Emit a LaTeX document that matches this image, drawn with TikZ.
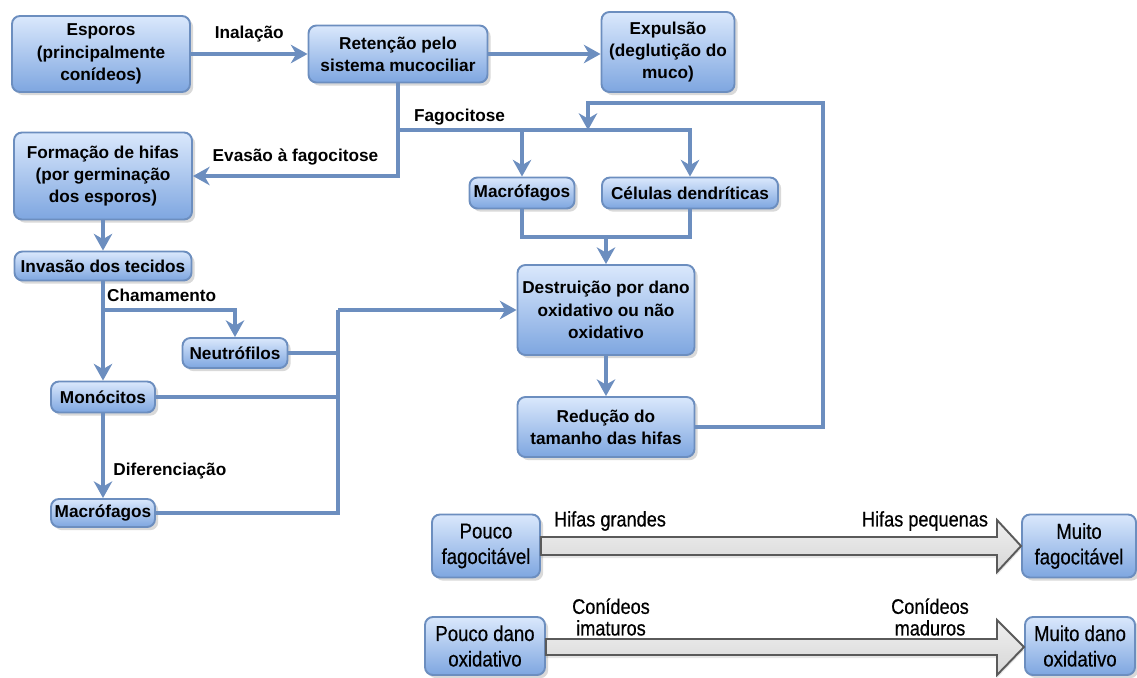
\documentclass[tikz,border=0pt]{standalone}
\usepackage{fontspec}
\setmainfont{Liberation Sans}
\newfontfamily\narrowfont[FakeStretch=0.86, FakeBold=0.5]{Liberation Sans}
\usepackage{xcolor}
\usetikzlibrary{calc,arrows.meta,shadows}
\definecolor{dioline}{HTML}{6C8EBF}
\definecolor{diotop}{HTML}{DAE8FC}
\definecolor{diobot}{HTML}{7EA6E0}
\definecolor{fatedge}{HTML}{5A5A5A}

\begin{document}
\begin{tikzpicture}[x=0.02cm, y=-0.02cm,
  blk/.style={draw=dioline, line width=1.1pt, rounded corners=4.5pt,
    top color=diotop, bottom color=diobot, align=center, inner sep=1pt,
    font=\fontsize{9.8}{12.7}\selectfont\bfseries,
    drop shadow={shadow xshift=1.8pt, shadow yshift=-1.8pt, opacity=0.3}},
  lowblk/.style={blk, font=\narrowfont\fontsize{12.3}{14.5}\selectfont},
  wire/.style={draw=dioline, line width=1.8pt},
  link/.style={wire, -{Stealth[length=9.5pt, width=10.5pt, inset=3pt]}},
  lbl/.style={font=\fontsize{9.8}{12}\selectfont\bfseries, inner sep=1pt},
  fatlbl/.style={font=\narrowfont\fontsize{12}{12.3}\selectfont, align=center, inner sep=0pt},
  fatarrow/.style={draw=fatedge, line width=1.1pt, top color=gray!12, bottom color=gray!32,
    drop shadow={shadow xshift=0pt, shadow yshift=-1.8pt, opacity=0.2}}]
\useasboundingbox (0,0) rectangle (1137,677);

% Entrada dos esporos
\node[blk, minimum width=3.56cm, minimum height=1.52cm] (esporos) at (101,54) {Esporos\\(principalmente\\conídeos)};
\node[blk, minimum width=3.58cm, minimum height=1.14cm] (retencao) at (398,54) {Retenção pelo\\sistema mucociliar};
\node[blk, minimum width=2.66cm, minimum height=1.60cm] (expulsao) at (668,52) {Expulsão\\(deglutição do\\muco)};

% Fagocitose
\node[blk, minimum width=2.10cm, minimum height=0.62cm] (macroA) at (522,193) {Macrófagos};
\node[blk, minimum width=3.52cm, minimum height=0.62cm] (celulas) at (690,193) {Células dendríticas};
\node[blk, minimum width=3.54cm, minimum height=1.80cm] (destruicao) at (606,310) {Destruição por dano\\oxidativo ou não\\oxidativo};
\node[blk, minimum width=3.54cm, minimum height=1.20cm] (reducao) at (606,427) {Redução do\\tamanho das hifas};

% Coluna da esquerda
\node[blk, minimum width=3.56cm, minimum height=1.74cm] (formacao) at (103,176) {Formação de hifas\\(por germinação\\dos esporos)};
\node[blk, minimum width=3.54cm, minimum height=0.58cm] (invasao) at (103,266) {Invasão dos tecidos};
\node[blk, minimum width=2.10cm, minimum height=0.60cm] (neutro) at (235,353) {Neutrófilos};
\node[blk, minimum width=2.08cm, minimum height=0.62cm] (monocitos) at (103,397) {Monócitos};
\node[blk, minimum width=2.08cm, minimum height=0.56cm] (macroB) at (103,513) {Macrófagos};

% Escalas
\node[lowblk, minimum width=2.16cm, minimum height=1.26cm] (poucofag) at (486,546) {Pouco\\fagocitável};
\node[lowblk, minimum width=2.28cm, minimum height=1.26cm] (muitofag) at (1079,546) {Muito\\fagocitável};
\node[lowblk, minimum width=2.40cm, minimum height=1.16cm] (poucodano) at (485,646) {Pouco dano\\oxidativo};
\node[lowblk, minimum width=2.20cm, minimum height=1.16cm] (muitodano) at (1080,646) {Muito dano\\oxidativo};

\coordinate (fagL) at (398,130);
\coordinate (loopR) at (823,103);
\coordinate (loopL) at (588,103);
\coordinate (juncao) at (606,237);
\coordinate (cham) at (103,310);
\coordinate (bus) at (338,310);

% Conectores do topo
\draw[link] (esporos.east) -- (esporos.east -| retencao.west) node[lbl, midway, above=5pt] {Inalação};
\draw[link] (retencao.east) -- (retencao.east -| expulsao.west);
\draw[link] (retencao.south) |- (formacao.east) node[lbl, pos=0.75, above=4pt] {Evasão à fagocitose};
\draw[link] (fagL) -| (celulas.north);
\draw[link] (fagL -| macroA.north) -- (macroA.north);
\node[lbl, anchor=south west] (fagolbl) at ($(fagL)+(14,-3)$) {Fagocitose};
\draw[link] (reducao.east) -| (loopR) -- (loopL) -- (loopL |- fagL);
\draw[wire] (macroA.south) |- (juncao) -| (celulas.south);
\draw[link] (juncao) -- (destruicao.north);
\draw[link] (destruicao) -- (reducao);

% Conectores da esquerda
\draw[link] (formacao) -- (invasao);
\draw[link] (invasao) -- (monocitos);
\node[lbl, anchor=south west] (chamlbl) at ($(cham)+(2,-6)$) {Chamamento};
\draw[link] (cham) -| (neutro.north);
\draw[link] (monocitos) -- (macroB) node[lbl, pos=0.68, right=4pt] {Diferenciação};
\draw[wire] (neutro.east) -| (bus);
\draw[wire] (monocitos.east) -- (monocitos.east -| bus);
\draw[wire] (macroB.east) -| (bus);
\draw[link] (bus) -- (destruicao.west);

% Setas largas
\draw[fatarrow] (poucofag.east |- 0,537) -- (997,537) -- (997,520) -- (muitofag.west |- 0,546)
  -- (997,572) -- (997,555) -- (poucofag.east |- 0,555) -- cycle;
\node[fatlbl] (hgrandes) at (610,521) {Hifas grandes};
\node[fatlbl] (hpequenas) at (925,521) {Hifas pequenas};
\draw[fatarrow] (poucodano.east |- 0,639) -- (997,639) -- (997,620) -- (muitodano.west |- 0,647)
  -- (997,675) -- (997,655) -- (poucodano.east |- 0,655) -- cycle;
\node[fatlbl] (cimaturos) at (611,617) {Conídeos\\imaturos};
\node[fatlbl] (cmaduros) at (930,617) {Conídeos\\maduros};
\end{tikzpicture}
\end{document}
